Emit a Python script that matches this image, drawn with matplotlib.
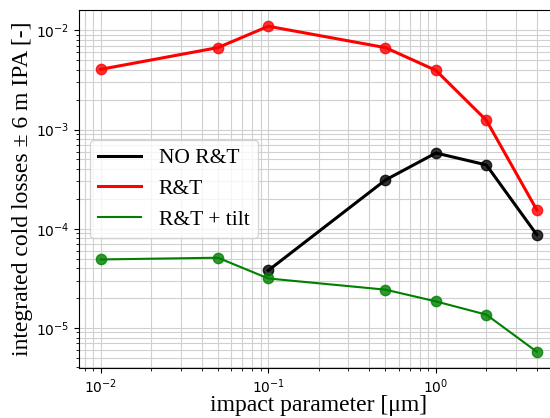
import numpy as np
import matplotlib
matplotlib.use("Agg")
import matplotlib.pyplot as plt

# impact parameter values
x_all = [0.01, 0.05, 0.1, 0.5, 1, 2, 4]
x_nort = [0.1, 0.5, 1, 2, 4]
# integrated cold losses
y_nort = [3.8e-5, 3.1e-4, 5.8e-4, 4.4e-4, 8.7e-5]
y_rt = [4.05e-3, 6.7e-3, 1.1e-2, 6.7e-3, 3.95e-3, 1.24e-3, 1.55e-4]
y_tilt = [4.9e-5, 5.1e-5, 3.15e-5, 2.43e-5, 1.85e-5, 1.36e-5, 5.75e-6]

plt.rcParams['font.family'] = ['Liberation Serif', 'DejaVu Serif']
plt.rcParams['mathtext.fontset'] = 'dejavusans'

fig = plt.figure(figsize=(5.5, 4.18), dpi=100)
ax = fig.add_axes([0.1436, 0.1196, 0.872, 0.8565])

ax.plot(x_nort, y_nort, color='black', lw=2.2, label='NO R&T')
ax.scatter(x_nort, y_nort, color='black', s=55, alpha=0.8, zorder=3)
ax.plot(x_all, y_rt, color='red', lw=2.2, label='R&T')
ax.scatter(x_all, y_rt, color='red', s=55, alpha=0.8, zorder=3)
ax.plot(x_all, y_tilt, color='green', lw=1.5, label='R&T + tilt')
ax.scatter(x_all, y_tilt, color='green', s=55, alpha=0.8, zorder=3)

ax.set_xscale('log')
ax.set_yscale('log')
ax.grid(which='both', color='#d0d0d0', lw=0.8)
ax.set_axisbelow(True)
for lab in ax.get_xticklabels() + ax.get_yticklabels():
    lab.set_fontfamily('DejaVu Sans')

ax.set_xlabel('impact parameter [μm]', fontsize=17, labelpad=-1)
ax.set_ylabel('integrated cold losses ± 6 m IPA [-]', fontsize=17, labelpad=2)
ax.legend(loc='center left', fontsize=15.5)

fig.savefig('out.png', dpi=100)
